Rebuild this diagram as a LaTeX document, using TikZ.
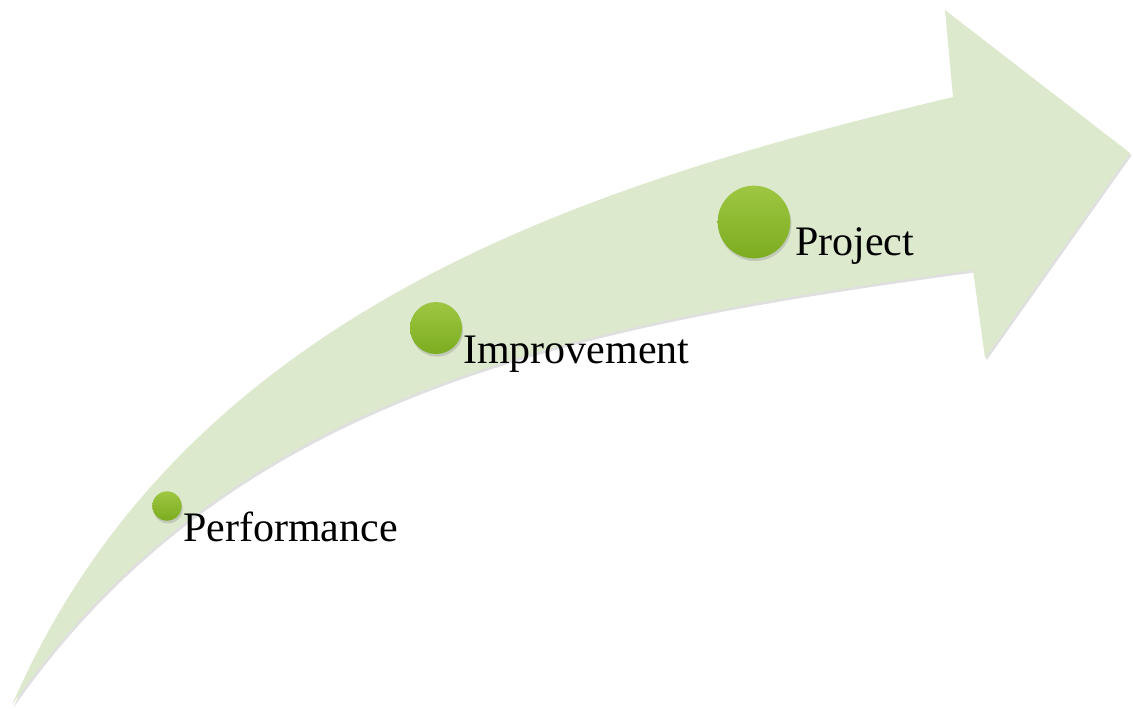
\documentclass[tikz,border=0pt]{standalone}
\usepackage{fontspec}
\setmainfont{Liberation Serif}
\usetikzlibrary{shadows}
\definecolor{arrowgreen}{RGB}{220,233,205}
\definecolor{dottop}{RGB}{158,198,66}
\definecolor{dotbottom}{RGB}{124,172,32}
\begin{document}
\begin{tikzpicture}[x=0.75pt,y=-0.75pt,
  bigarrow/.style={fill=arrowgreen, drop shadow={shadow xshift=1.2pt, shadow yshift=-1.8pt, opacity=0.25}},
  dot/.style={circle, inner sep=0pt, minimum size=#1, top color=dottop, bottom color=dotbottom, draw=none,
    drop shadow={shadow xshift=0.8pt, shadow yshift=-2pt, opacity=0.3}},
  label/.style={anchor=base west, inner sep=0pt, font=\fontsize{31.5}{38}\selectfont, text=black}]
\useasboundingbox (0,0) rectangle (1133,708);
% curved arrow
\path[bigarrow] (12,705) .. controls (187,302) and (603,181) .. (953,97)
  -- (945,10) -- (1130,153) -- (985,358) -- (973,270)
  .. controls (593,322) and (237,383) .. (12,705) -- cycle;
% dots
\node[dot=22pt] (d1) at (167,506) {};
\node[dot=39pt] (d2) at (436,328) {};
\node[dot=54.5pt] (d3) at (754,222) {};
% labels
\node[label] (t1) at (183,541) {Performance};
\node[label] (t2) at (463,363) {Improvement};
\node[label] (t3) at (795,255) {Project};
\end{tikzpicture}
\end{document}
